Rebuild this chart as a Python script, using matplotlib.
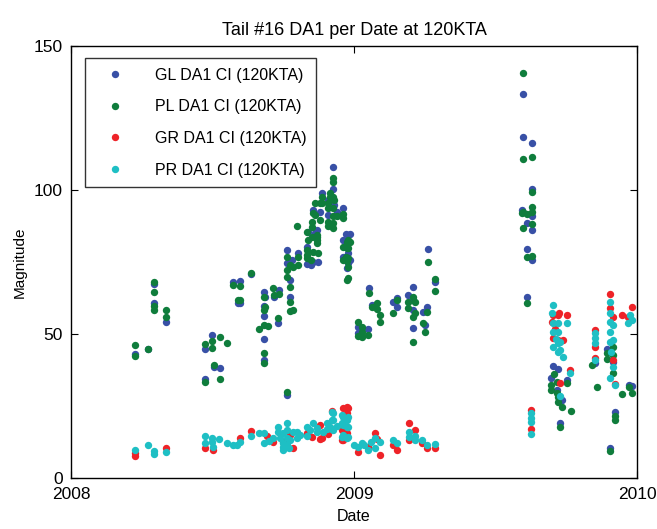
import matplotlib
matplotlib.use("Agg")
import matplotlib.pyplot as plt

plt.rcParams['font.family'] = ['Liberation Sans', 'DejaVu Sans']

# decimal-year dates and magnitudes
gl_date = [0.226, 0.272, 0.293, 0.293, 0.336,
           0.473, 0.473, 0.498, 0.505, 0.527, 0.572, 0.597, 0.597, 0.590, 0.636,
           0.682, 0.682, 0.682, 0.682, 0.682, 0.686, 0.717, 0.735, 0.731, 0.763,
           0.763, 0.763, 0.774, 0.774, 0.781, 0.802, 0.834, 0.834, 0.837, 0.848,
           0.855, 0.862, 0.869, 0.880, 0.887, 0.908, 0.908, 0.926, 0.926, 0.926,
           0.929, 0.940, 0.961, 0.961, 0.961, 0.972, 0.972, 0.979, 0.979, 0.986,
           0.986, 0.975, 0.975, 0.855, 0.873,
           1.014, 1.014, 1.049, 1.053, 1.064, 1.138, 1.152, 1.152, 1.191, 1.208,
           1.208, 1.208, 1.208, 1.244, 1.251, 1.258, 1.261, 1.286,
           1.597, 1.597, 1.629, 1.629, 1.594, 1.629, 1.611, 1.629, 1.611, 1.629,
           1.611, 1.703, 1.696, 1.717, 1.735, 1.753, 1.728, 1.852, 1.894, 1.915,
           1.922, 1.905, 1.972, 1.982, 1.721]
gl_val = [43.0, 45.0, 67.5, 61.0, 54.3,
          44.8, 34.5, 49.6, 38.5, 38.2, 68.3, 68.6, 60.8, 61.0, 71.0,
          64.8, 59.8, 56.4, 48.4, 41.1, 63.0, 63.0, 65.4, 53.8, 28.9,
          74.6, 79.3, 68.9, 63.0, 75.8, 78.1, 80.4, 74.5, 85.6, 74.0,
          93.2, 85.1, 86.2, 92.6, 99.0, 96.6, 91.4, 108.0, 100.4, 96.0,
          95.0, 92.6, 94.0, 82.7, 77.0, 85.0, 81.6, 78.1, 74.6, 84.7,
          75.8, 76.9, 72.9, 75.2, 75.0,
          52.6, 50.3, 51.7, 66.0, 60.2, 61.3, 62.5, 59.6, 63.6, 66.5,
          61.9, 58.4, 52.1, 57.8, 53.2, 59.6, 79.6, 68.3,
          133.3, 118.4, 116.5, 100.4, 93.2, 91.1, 88.8, 86.2, 79.6, 75.8,
          63.0, 39.0, 34.7, 30.7, 27.2, 34.1, 19.3, 39.9, 45.0, 40.5,
          23.1, 10.4, 32.4, 32.0, 38.0]

pl_date = [0.226, 0.226, 0.272, 0.293, 0.293, 0.293, 0.293, 0.336, 0.336,
           0.473, 0.473, 0.498, 0.498, 0.505, 0.527, 0.527, 0.551, 0.572, 0.597,
           0.597, 0.590, 0.636, 0.664,
           0.682, 0.682, 0.682, 0.682, 0.682, 0.686, 0.696, 0.714, 0.717, 0.735,
           0.731, 0.763, 0.774,
           0.763, 0.763, 0.763, 0.774, 0.774, 0.774, 0.784, 0.784, 0.802, 0.802,
           0.799, 0.834, 0.834, 0.837, 0.852, 0.852, 0.852, 0.848, 0.855, 0.862,
           0.862, 0.869, 0.869, 0.880, 0.880, 0.887, 0.887, 0.908, 0.908, 0.908,
           0.908, 0.915, 0.915, 0.926, 0.926, 0.926, 0.926, 0.926, 0.926, 0.926,
           0.929, 0.940, 0.961, 0.961, 0.961, 0.961, 0.979, 0.979, 0.979, 0.979,
           0.979, 0.972, 0.986, 0.975, 0.975, 0.975, 0.975, 0.834, 0.834, 0.855,
           0.873, 0.869, 0.869,
           1.014, 1.014, 1.028, 1.028, 1.028, 1.049, 1.053, 1.064, 1.081, 1.081,
           1.092, 1.092, 1.138, 1.152, 1.191, 1.191, 1.208, 1.208, 1.208, 1.216,
           1.216, 1.244, 1.251, 1.258, 1.261, 1.286, 1.286,
           1.597, 1.629, 1.597, 1.629, 1.594, 1.597, 1.611, 1.629, 1.629, 1.597,
           1.629, 1.611, 1.629, 1.611,
           1.707, 1.696, 1.696, 1.717, 1.717, 1.721, 1.721, 1.735, 1.753, 1.767,
           1.728, 1.841, 1.859, 1.915, 1.915, 1.915, 1.922, 1.922, 1.905, 1.947,
           1.972, 1.982, 1.894, 1.894]
pl_val = [46.3, 42.6, 45.0, 68.3, 64.8, 60.0, 58.4, 58.4, 56.0,
          46.6, 33.5, 47.7, 45.3, 39.3, 49.0, 34.5, 47.0, 67.1, 66.9,
          61.9, 61.9, 71.2, 51.7,
          63.0, 58.4, 53.2, 43.4, 39.9, 59.6, 52.9, 66.0, 63.6, 63.9,
          55.6, 30.1, 58.2,
          72.3, 70.0, 76.9, 74.0, 66.5, 61.3, 58.4, 73.4, 76.9, 74.0,
          87.6, 79.3, 76.4, 82.7, 89.1, 87.4, 83.9, 75.8, 92.0, 95.5,
          91.4, 84.5, 82.7, 95.5, 89.7, 97.8, 95.7, 95.5, 93.8, 89.1,
          87.6, 99.0, 97.8, 104.4, 103.0, 97.8, 94.0, 91.0, 88.5, 86.8,
          96.6, 91.0, 91.8, 90.5, 80.4, 75.8, 82.7, 79.9, 76.4, 73.5,
          69.4, 76.9, 82.2, 82.2, 79.9, 75.6, 68.9, 85.6, 77.5, 78.7,
          78.1, 83.9, 81.6,
          54.4, 49.4, 52.6, 49.2, 50.9, 49.8, 64.2, 59.4, 61.0, 58.7,
          54.4, 56.7, 57.3, 61.9, 61.3, 59.0, 63.0, 56.1, 47.4, 61.3,
          57.3, 53.8, 50.9, 57.8, 75.0, 69.1, 65.1,
          140.8, 111.6, 110.8, 99.5, 92.2, 92.6, 91.8, 94.1, 92.6, 86.8,
          88.2, 76.9, 77.2, 61.0,
          36.2, 32.4, 30.7, 33.5, 29.5, 28.3, 26.6, 24.9, 33.0, 23.4,
          17.9, 39.3, 31.8, 45.7, 42.8, 36.5, 21.6, 20.2, 9.6, 29.3,
          31.6, 29.5, 43.4, 41.5]

gr_date = [0.226, 0.226, 0.336, 0.473, 0.502, 0.597, 0.636, 0.693, 0.714, 0.774,
           0.784, 0.834, 0.852, 0.887, 0.880, 0.958, 0.958, 0.975, 0.975, 0.975,
           0.922, 0.979, 0.880, 0.763, 0.749, 0.910,
           0.961, 0.961, 0.961, 1.014, 1.049, 1.074, 1.092, 1.138, 1.152, 1.194,
           1.194, 1.216, 1.240, 1.258, 1.286, 1.081,
           1.625, 1.625, 1.703, 1.703, 1.700, 1.721, 1.721, 1.739, 1.753, 1.724,
           1.763, 1.728, 1.852, 1.852, 1.852, 1.905, 1.905, 1.915, 1.915, 1.922,
           1.947, 1.968, 1.982, 1.710]
gr_val = [7.7, 8.7, 10.4, 10.4, 9.8, 13.9, 16.5, 14.7, 12.7, 15.0,
          10.4, 15.8, 14.2, 13.9, 18.5, 16.8, 13.3, 24.9, 22.6, 15.6,
          23.5, 24.5, 13.5, 13.3, 12.5, 15.5,
          24.3, 16.8, 13.3, 9.2, 11.0, 15.6, 8.1, 11.6, 9.8, 19.1,
          13.3, 16.8, 12.2, 10.4, 10.4, 13.5,
          23.7, 17.0, 56.7, 48.6, 54.4, 56.7, 48.0, 48.0, 56.6, 57.3,
          37.6, 33.2, 51.5, 45.5, 41.7, 63.9, 59.0, 56.1, 41.1, 32.8,
          56.7, 56.1, 59.4, 52.0]

pr_date = [0.226, 0.272, 0.293, 0.293, 0.336, 0.473, 0.473, 0.498, 0.498, 0.502,
           0.523, 0.551, 0.572, 0.587, 0.597, 0.636, 0.664, 0.682, 0.682, 0.714,
           0.731, 0.731, 0.749, 0.749, 0.749, 0.749, 0.763, 0.763, 0.763, 0.763,
           0.774, 0.784, 0.799, 0.799, 0.834, 0.834, 0.845, 0.855, 0.869, 0.869,
           0.905, 0.905, 0.915, 0.922, 0.922, 0.922, 0.958, 0.958, 0.958, 0.975,
           0.975, 0.975, 0.740, 0.770, 0.810, 0.890, 0.940, 0.700,
           0.926, 0.926, 0.926, 0.961, 0.961, 0.961, 0.979, 0.979, 0.979, 1.014,
           1.028, 1.049, 1.074, 1.074, 1.092, 1.138, 1.152, 1.194, 1.194, 1.216,
           1.216, 1.240, 1.258, 1.286, 1.000, 1.035, 1.060,
           1.625, 1.625, 1.625, 1.625, 1.703, 1.700, 1.703, 1.703, 1.703, 1.721,
           1.721, 1.721, 1.721, 1.728, 1.728, 1.739, 1.753, 1.763, 1.728, 1.852,
           1.852, 1.852, 1.852, 1.905, 1.905, 1.905, 1.905, 1.915, 1.915, 1.915,
           1.905, 1.922, 1.968, 1.975, 1.982, 1.715, 1.905, 1.910]
pr_val = [9.8, 11.6, 9.6, 8.4, 9.3, 14.7, 12.2, 13.9, 12.7, 11.0,
          13.5, 12.2, 11.6, 11.6, 12.7, 14.7, 15.6, 15.6, 12.2, 13.9,
          17.9, 16.2, 15.6, 12.2, 11.0, 9.8, 19.1, 16.8, 13.9, 11.6,
          13.3, 16.2, 16.2, 13.9, 17.9, 14.7, 16.8, 19.3, 17.4, 16.2,
          19.1, 17.0, 17.9, 23.1, 20.2, 17.0, 22.0, 19.1, 14.5, 20.2,
          17.9, 13.9, 14.0, 10.5, 15.0, 16.0, 18.0, 13.0,
          22.6, 20.2, 16.8, 21.4, 18.5, 15.0, 21.4, 17.9, 14.5, 11.0,
          12.2, 9.8, 13.9, 10.4, 12.7, 13.3, 12.2, 16.2, 14.5, 14.7,
          13.3, 13.3, 11.6, 11.9, 11.5, 11.5, 12.5,
          22.8, 20.8, 19.7, 15.4, 60.2, 57.3, 53.8, 50.9, 45.7, 53.8,
          50.9, 46.9, 44.0, 47.5, 44.6, 42.2, 53.8, 36.7, 28.6, 50.3,
          48.6, 46.9, 41.1, 61.3, 57.5, 54.4, 50.9, 53.2, 48.0, 38.7,
          34.7, 32.4, 54.0, 56.7, 55.0, 48.5, 47.5, 44.0]

names = ['GL DA1 CI (120KTA)', 'PL DA1 CI (120KTA)',
         'GR DA1 CI (120KTA)', 'PR DA1 CI (120KTA)']
colors = ['#3850a6', '#0f7d3c', '#ee2328', '#1ebfc4']
series = [(gl_date, gl_val), (pl_date, pl_val), (gr_date, gr_val), (pr_date, pr_val)]

fig = plt.figure(figsize=(6.57, 5.29), dpi=100)
ax = fig.add_axes([0.108, 0.0958, 0.8615, 0.8167])

for (d, v), name, c in zip(series, names, colors):
    ax.plot([2008 + x for x in d], v, linestyle='none', marker='o',
            markersize=5.3, markeredgewidth=0, color=c, label=name)

ax.set_xlim(2008, 2010)
ax.set_ylim(0, 150)
ax.set_xticks([2008, 2009, 2010])
ax.set_xticklabels(['2008', '2009', '2010'])
ax.set_yticks([0, 50, 100, 150])
ax.tick_params(direction='in', length=5, top=True, right=True, labelsize=12.5, pad=6)
for s in ax.spines.values():
    s.set_linewidth(1.0)

ax.set_title('Tail #16 DA1 per Date at 120KTA', fontsize=13, pad=8)
ax.set_xlabel('Date', fontsize=11.5, labelpad=5)
ax.set_ylabel('Magnitude', fontsize=11, labelpad=5)

leg = ax.legend(loc='upper left', bbox_to_anchor=(0.0247, 0.973), borderaxespad=0,
                fontsize=11.5, frameon=True, fancybox=False, handlelength=2.6,
                handletextpad=1.2, labelspacing=1.05, borderpad=0.6,
                markerscale=1.0)
leg.get_frame().set_edgecolor('black')
leg.get_frame().set_linewidth(1.0)

fig.savefig('out.png', dpi=100)
